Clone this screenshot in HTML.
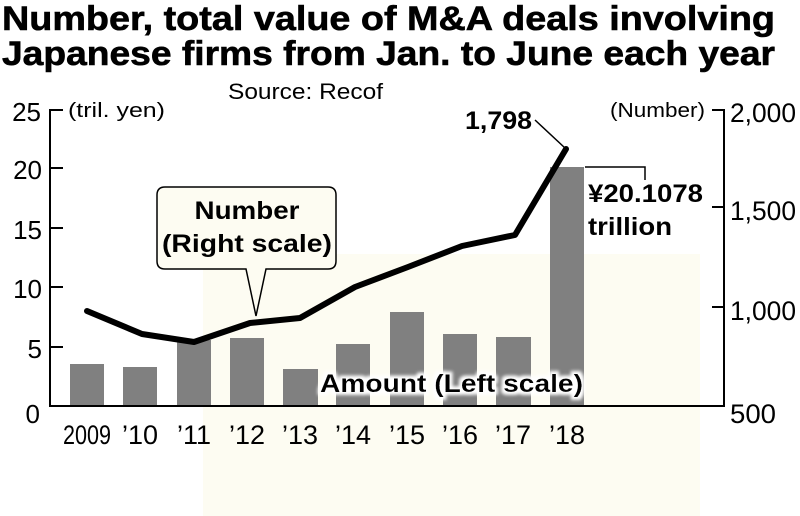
<!DOCTYPE html>
<html><head><meta charset="utf-8"><style>
body{margin:0;background:#fff;}
svg{display:block;font-family:"Liberation Sans",Arial,sans-serif;}
</style></head><body>
<svg width="800" height="516" viewBox="0 0 800 516">
<defs><filter id="glow" x="-10%" y="-30%" width="120%" height="160%"><feMorphology in="SourceAlpha" operator="dilate" radius="3"/><feGaussianBlur stdDeviation="1.5" result="b"/><feFlood flood-color="#fff"/><feComposite in2="b" operator="in"/><feMerge><feMergeNode/><feMergeNode in="SourceGraphic"/></feMerge></filter></defs>
<rect x="203" y="254" width="497" height="262" fill="#fdfcf2"/>
<text x="2" y="30" font-size="34" font-weight="bold" textLength="773" lengthAdjust="spacingAndGlyphs" stroke="#000" stroke-width="0.6">Number, total value of M&amp;A deals involving</text>
<text x="2" y="65" font-size="34" font-weight="bold" textLength="773" lengthAdjust="spacingAndGlyphs" stroke="#000" stroke-width="0.6">Japanese firms from Jan. to June each year</text>
<text x="228" y="99" font-size="22" textLength="155" lengthAdjust="spacingAndGlyphs">Source: Recof</text>
<g fill="#808080">
<rect x="70" y="364" width="34" height="42"/><rect x="123" y="367" width="34" height="39"/>
<rect x="177" y="340" width="34" height="66"/><rect x="230" y="338" width="34" height="68"/>
<rect x="283" y="369" width="35" height="37"/><rect x="336" y="344" width="34" height="62"/>
<rect x="390" y="312" width="34" height="94"/><rect x="443" y="334" width="34" height="72"/>
<rect x="496" y="337" width="35" height="69"/><rect x="550" y="167" width="34" height="239"/>
</g>
<g stroke="#000" stroke-width="2" fill="none">
<path d="M63 110H50V406H724V110H712M50 168H63M50 228H63M50 287H63M50 347H63M712 207H724M712 307H724"/>
</g>
<polyline points="87,311 142,334 194,342 250,323 300,318 355,287 408,267 462,246 515,235 566,149" fill="none" stroke="#000" stroke-width="6" stroke-linejoin="round" stroke-linecap="round"/>
<path d="M535 120L565 148M585 167H645V180" stroke="#000" stroke-width="1.5" fill="none"/>
<g font-size="26" text-anchor="end">
<text x="41" y="121">25</text><text x="42" y="179">20</text><text x="42" y="239">15</text><text x="42" y="298">10</text><text x="42" y="358">5</text><text x="40" y="423">0</text>
</g>
<text x="68" y="117" font-size="20" textLength="97" lengthAdjust="spacingAndGlyphs">(tril. yen)</text>
<text x="610" y="117" font-size="20" textLength="95" lengthAdjust="spacingAndGlyphs">(Number)</text>
<g font-size="27"><text x="730" y="122" textLength="66" lengthAdjust="spacingAndGlyphs">2,000</text><text x="730" y="220" textLength="66" lengthAdjust="spacingAndGlyphs">1,500</text><text x="730" y="320" textLength="66" lengthAdjust="spacingAndGlyphs">1,000</text><text x="730" y="423" textLength="46" lengthAdjust="spacingAndGlyphs">500</text></g>
<g font-size="27" text-anchor="middle">
<text x="87" y="444" textLength="48" lengthAdjust="spacingAndGlyphs">2009</text><text x="140" y="444">’10</text><text x="194" y="444">’11</text><text x="247" y="444">’12</text><text x="300" y="444">’13</text><text x="353" y="444">’14</text><text x="407" y="444">’15</text><text x="460" y="444">’16</text><text x="513" y="444">’17</text><text x="567" y="444">’18</text>
</g>
<path d="M165 187H328Q336 187 336 195V261Q336 269 328 269H266L256 316L246 269H165Q157 269 157 261V195Q157 187 165 187Z" fill="#fdfcf2" stroke="#000" stroke-width="1.5"/>
<g font-size="25" font-weight="bold">
<text x="247" y="219" text-anchor="middle" textLength="105" lengthAdjust="spacingAndGlyphs">Number</text>
<text x="247" y="252" text-anchor="middle" textLength="170" lengthAdjust="spacingAndGlyphs">(Right scale)</text>
<text x="465" y="129" textLength="67" lengthAdjust="spacingAndGlyphs">1,798</text>
<text x="588" y="202" textLength="115" lengthAdjust="spacingAndGlyphs">¥20.1078</text>
<text x="588" y="235" textLength="84" lengthAdjust="spacingAndGlyphs">trillion</text>
<text x="320" y="392" filter="url(#glow)" textLength="263" lengthAdjust="spacingAndGlyphs">Amount (Left scale)</text>
</g>
</svg>
</body></html>
